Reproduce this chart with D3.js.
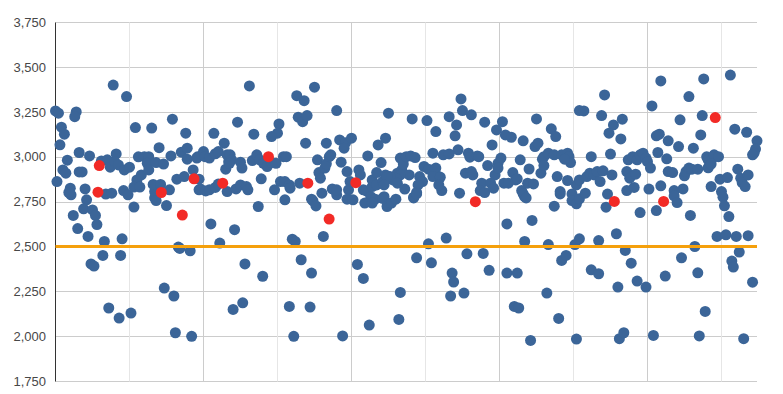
<!DOCTYPE html>
<html lang="en">
<head>
<meta charset="UTF-8">
<title>Scatter with target line</title>
<style>
  html, body { margin: 0; padding: 0; background: #fff; }
  svg text { font-family: Arial, "Liberation Sans", sans-serif; }
</style>
</head>
<body>
<script src="https://d3js.org/d3.v7.min.js"></script>
<script>
// blue observations [x, value]
const bluePoints = [
  [39,3400],[48,3336],[0,3256],[2,3243],[14,3250],[13,3224],[4,3165],[6,3126],[3,3067],[16,3024],[23,3005],[8,2981],
  [1,2862],[5,2927],[7,2909],[16,2916],[18,2916],[10,2825],[10.5,2788],[20,2821],[21,2760],[31,2977],[35,2983],[37,2942],
  [41,3016],[40,2973],[42.5,2955],[34,2792],[38,2797],[46.5,2927],[50,2942],[46,2812],[49,2788],[54,3163],[55,2871],
  [58,2899],[56,3000],[60,3001],[63,3001],[65,3160],[62,2964],[63,2927],[68,2968],[73,2960],[70,3051],[67,2806],[79,3210],
  [78,3005],[85,3026],[89,3048],[88,3132],[89,2987],[82,2875],[87,2890],[93,2927],[96,3000],[97,2816],
  [12,2673],[19,2710],[25,2704],[27,2673],[15,2600],[28,2622],[22,2556],[33,2528],[45,2543],[32,2450],[44,2450],[24,2403],
  [26,2391],[53,2720],[67,2771],[68,2756],[75,2728],[36,2157],[43,2101],[51,2129],[73.5,2268],[80,2224],[81,2019],[92,1999],
  [83,2497],[84,2489],[91,2476],
  [95.5,2993],[100,3029],[101,3001],[104,2993],[108,3017],[110,3029],[116,3011],[117,2973],[107,3131],[114,3076],[97,2875],
  [115,2931],[9,2801],[53,2831],[57,2831],[66,2846],[71,2846],[77,2816],[98,2820],[101.5,2810],[104,2816],[108,2829],
  [110,2848],[116,2806],[105,2626],[111,2519],
  [131,3395],[163,3341],[168,3313],[175,3388],[164,3221],[167,3196],[170,3230],[190,3258],[225,3243],[123,3193],[151,3183],
  [150,3132],[146,3113],[134,3126],[169,3076],[183,3076],[192,3094],[196,3079],[195,3048],[200,3104],[223,3104],[218,3066],
  [118,3011],[119,2983],[117.5,2964],[125,2970],[126,2937],[133,2979],[136,3011],[138,2983],[140.5,2964],[143,2946],
  [146,2968],[149,2964],[154,3001],[156,3001],[139,2877],[152,2862],[155,2862],[158,2843],[148,2816],[165,2853],[177,2983],
  [178,2912],[179,2881],[182,2937],[183,2961],[185,3001],[186,3011],[180,2797],[187,2821],[190,2788],[190,2816],[193,2970],
  [197,2918],[199,2862],[198,2816],[205,2927],[206,2899],[211,3005],[208,2816],[210,2810],[214,2834],[213,2778],[214,2871],
  [217,2912],[220,2968],[223,2899],[217,2843],[221,2862],[222,2778],[225,2881],[122,2821],[125,2843],[129,2834],[130,2816],
  [155,2760],[158.5,2825],[173,2764],[197,2764],[201,2760],[216,2764],
  [137,2723],[174,2754],[176,2726],[209,2742],[214,2742],[228,2871],[231,2909],[234,2927],[233,2993],[221,2768],[224,2723],
  [227,2742],[230,2764],[181,2556],[160,2541],[162,2528],[166,2426],[121,2594],
  [128,2403],[140,2334],[173,2352],[204,2400],[208,2322],[120,2149],[126.5,2186],[158,2166],[172,2162],[212,2062],[161,1999],
  [194,2001],
  [274,3323],[275,3258],[281,3234],[241,3211],[251,3202],[266,3224],[271,3178],[270,3117],[272,3039],[257,3141],[290,3193],
  [302,3196],[298,3150],[304,3122],[308,3109],[295,3066],[316,3089],[325,3211],[335,3156],[338,3113],[324,3057],[326,3076],
  [354,3258],
  [235,2960],[237,3001],[240,3005],[243,2996],[255,3020],[262,3011],[266,3016],[279,3020],[280,2998],[285,3005],[286,3001],
  [301,2993],[299,2964],[314,2983],[329,2987],[330,3001],[333,3020],[337,3011],[342,3011],[346,3020],[347,3001],[348,2968],
  [344,2987],[352,2843],[354,2871],
  [249,2946],[252,2931],[257,2937],[259,2890],[255,2890],[260,2886],[246,2890],[248,2862],[245,2843],[239,2899],[233,2899],
  [230,2881],[226,2890],[224,2890],[231,2853],[222,2843],[236,2820],[244,2801],[242,2775],[261,2812],[259,2843],[273,2797],
  [277,2909],[281,2918],[282,2899],[292,2951],[297,2899],[299,2937],[288,2853],[294,2853],[287,2812],[290,2801],[296,2825],
  [303,2853],[306,2853],[309,2912],[311,2871],[312,2877],[315,2812],[317,2778],[319,2853],[323,2849],[320,2932],[328,2909],
  [330,2951],[339,2890],[346,2868],[341,2806],[349,2793],
  [242,2771],[244,2793],[316,2793],[318,2771],[337,2725],[341,2793],[349,2756],[352,2738],[354,2766],[305,2626],[322,2645],
  [252,2515],[264,2547],[317,2528],[333,2511],[351,2511],[354,2543],[244,2437],[254,2409],[278,2459],[289,2461],[268,2352],
  [269,2302],[293,2367],[305,2352],[312,2352],[342,2422],[345,2450],[233,2244],[267,2224],[276,2240],[332,2240],[310,2166],
  [313,2157],[232,2093],[340,2099],[321,1976],[352,1984],
  [371,3345],[357,3256],[369,3230],[377,3178],[383,3210],[374,3132],[382,3100],[375,3015],[362,3001],[358,2797],
  [359,2890],[361,2909],[364,2899],[366,2918],[370,2922],[368,2862],[376,2899],[373,2792],[372,2719],[386,2918],[388,2881],
  [386,2812],[391,2829],[392,2903],[387,2983],[390,3001],[393,2983],[395,3011],[397,3020],[399,2993],[400,2973],[402,2937],
  [395,2689],[401,2820],[403,3284],[406,3117],[408,3126],[407,3024],[414,3089],[413,2989],[406,2700],[409,2838],[414,2918],
  [417,2912],[418,2812],[418,2782],[420,2745],[424,2821],[422,3206],[421,3057],[425,2894],[426,2918],[428,2937],[430,2931],
  [434,2931],[428,3336],[431,3048],[429,2673],[437,3230],[436,3122],[440,3000],[441,2983],[444,2993],[445,3011],[448,3001],
  [441,2939],[443,2960],[443,2834],[449,2875],[454,2884],[450,2806],[451,2775],[452,2727],[455,2667],[459,3154],[467,3137],
  [474,3089],[473,3043],[472,3020],[471,3011],[461,2931],[463,2881],[464,2856],[466,2834],[468,2899],[379,2571],[367,2533],
  [385,2478],[432,2500],[447,2556],[453,2565],[460,2556],[468,2560],[462,2469],[423,2437],
  [362,2370],[367,2348],[389,2407],[393,2307],[399,2274],[380,2274],[412,2335],[434,2353],[457,2419],[458,2385],[471,2301],
  [439,2138],[381,1986],[384,2019],[404,2004],[435,2001],[465,1986],
  [409,3423],[438,3434],[456,3456]
];

// red flagged observations [x, value]
const redPoints = [
  [29.6,2951],[28.7,2803],[71.5,2801],[85.7,2675],[93.6,2877],[113,2853],[143.9,3001],
  [170.5,2853],[184.9,2653],[202.9,2856],[283.7,2750],[377.6,2751],[410.9,2751],[445.8,3219]
];

const targetValue = 2500;
const yTicks = [1750, 2000, 2250, 2500, 2750, 3000, 3250, 3500, 3750];
const xMajorTicks = [100, 200, 300, 400];
const xMinorTicks = [50, 150, 250, 350, 450];

const W = 783, H = 394;
const margin = {top: 22.3, right: 26, bottom: 13, left: 55.5};

const svg = d3.select('body').append('svg')
  .attr('width', W)
  .attr('height', H);

const x = d3.scaleLinear().domain([0, 474]).range([margin.left, W - margin.right]);
const y = d3.scaleLinear().domain([1750, 3750]).range([H - margin.bottom, margin.top]);

const crisp = v => Math.round(v) + 0.5;

// horizontal grid
svg.append('g').selectAll('line')
  .data(yTicks)
  .join('line')
  .attr('x1', x(0)).attr('x2', x(474))
  .attr('y1', d => crisp(y(d))).attr('y2', d => crisp(y(d)))
  .attr('stroke', '#cccccc');

// vertical grid: minor then major
svg.append('g').selectAll('line')
  .data(xMinorTicks)
  .join('line')
  .attr('x1', d => crisp(x(d))).attr('x2', d => crisp(x(d)))
  .attr('y1', crisp(y(3750))).attr('y2', crisp(y(1750)))
  .attr('stroke', '#e6e6e6');

svg.append('g').selectAll('line')
  .data(xMajorTicks)
  .join('line')
  .attr('x1', d => crisp(x(d))).attr('x2', d => crisp(x(d)))
  .attr('y1', crisp(y(3750))).attr('y2', crisp(y(1750)))
  .attr('stroke', '#cccccc');

// y axis labels
svg.append('g').selectAll('text')
  .data(yTicks)
  .join('text')
  .attr('x', 46)
  .attr('y', d => y(d))
  .attr('dy', '0.36em')
  .attr('text-anchor', 'end')
  .style('font-size', '13px')
  .style('fill', '#474747')
  .text(d => d3.format(',')(d));

// left axis line
svg.append('line')
  .attr('x1', crisp(x(0)) - 1).attr('x2', crisp(x(0)) - 1)
  .attr('y1', crisp(y(3750))).attr('y2', crisp(y(1750)))
  .attr('stroke', '#333333');

// points
svg.append('g').selectAll('circle')
  .data(bluePoints)
  .join('circle')
  .attr('cx', d => x(d[0]))
  .attr('cy', d => y(d[1]))
  .attr('r', 5.5)
  .attr('fill', '#3b6598');

svg.append('g').selectAll('circle')
  .data(redPoints)
  .join('circle')
  .attr('cx', d => x(d[0]))
  .attr('cy', d => y(d[1]))
  .attr('r', 5.5)
  .attr('fill', '#f22a26');

// target line
svg.append('line')
  .attr('x1', x(0)).attr('x2', x(474))
  .attr('y1', y(targetValue)).attr('y2', y(targetValue))
  .attr('stroke', '#f5a00c')
  .attr('stroke-width', 3);
</script>
</body>
</html>
